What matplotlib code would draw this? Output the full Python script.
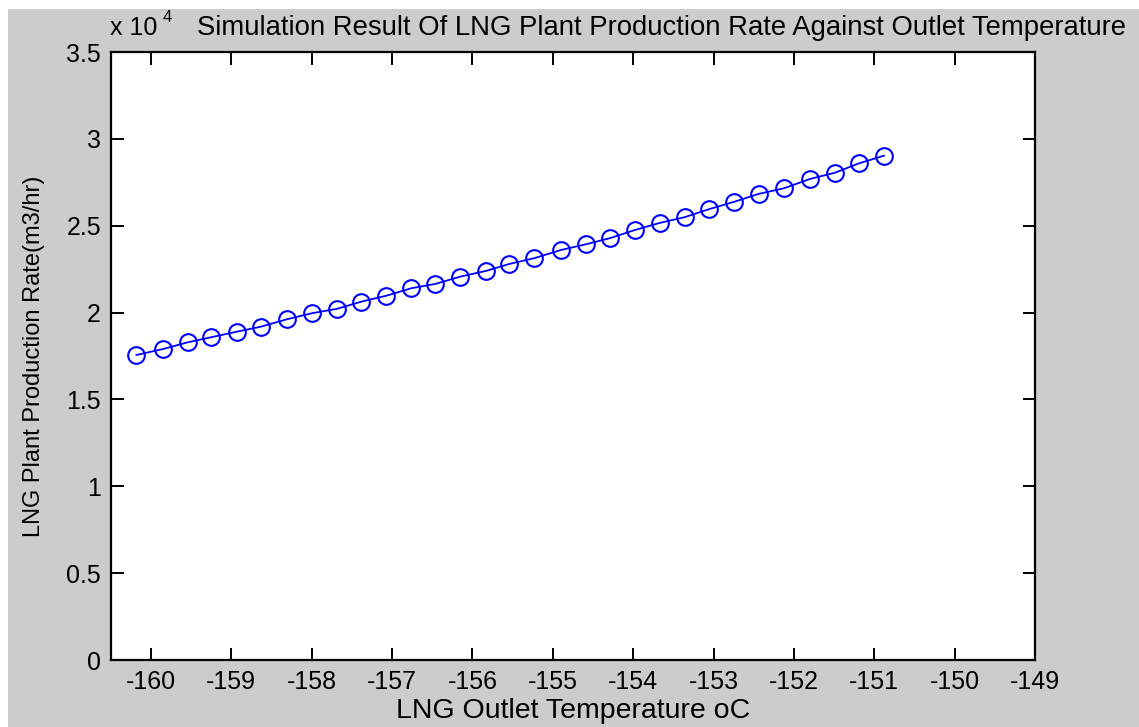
import matplotlib
matplotlib.use("Agg")
import matplotlib.pyplot as plt
from matplotlib.patches import Rectangle

# --- Datos ---
temperatura = [-160.18, -159.85, -159.54, -159.25, -158.93, -158.63, -158.31, -158.00,
               -157.69, -157.38, -157.07, -156.76, -156.46, -156.15, -155.83, -155.54,
               -155.23, -154.90, -154.59, -154.29, -153.98, -153.67, -153.36, -153.05,
               -152.74, -152.44, -152.12, -151.80, -151.49, -151.19, -150.88]
produccion = [17560, 17900, 18290, 18580, 18900, 19190, 19610, 19960,
              20210, 20630, 20970, 21400, 21650, 22070, 22400, 22800,
              23130, 23600, 23930, 24280, 24750, 25160, 25490, 25960,
              26380, 26830, 27160, 27690, 28050, 28590, 29030]
x_ticks = [-160, -159, -158, -157, -156, -155, -154, -153, -152, -151, -150, -149]
y_ticks = [0, 5000, 10000, 15000, 20000, 25000, 30000, 35000]
y_labels = ["0", "0.5", "1", "1.5", "2", "2.5", "3", "3.5"]

W, H = 1139, 727
FONT = "Liberation Sans"
FS = 18

fig = plt.figure(figsize=(W / 100, H / 100), dpi=100)
fig.patch.set_facecolor("white")
# fondo gris estilo MATLAB (con un borde blanco arriba e izquierda)
fig.patches.append(Rectangle((8 / W, 0), 1, 1 - 9 / H, transform=fig.transFigure,
                             facecolor="#cccccc", edgecolor="none", zorder=-10))

ax = fig.add_axes([110.7 / W, 67 / H, (1035 - 110.7) / W, (660 - 52) / H])
ax.set_facecolor("white")

ax.plot(temperatura, produccion, "-", color="blue", linewidth=1.3,
        marker="o", markersize=12, markerfacecolor="none",
        markeredgecolor="blue", markeredgewidth=1.5)

ax.set_xlim(-160.5, -149)
ax.set_ylim(0, 35000)
ax.set_xticks(x_ticks)
ax.set_xticklabels([str(t) for t in x_ticks], fontsize=FS, family=FONT)
ax.set_yticks(y_ticks)
ax.set_yticklabels(y_labels, fontsize=FS, family=FONT)
ax.tick_params(direction="in", length=9, width=1.4, top=True, right=True, pad=7)
for s in ax.spines.values():
    s.set_linewidth(1.6)

ax.set_xlabel("LNG Outlet Temperature oC", fontsize=20.5, family=FONT, labelpad=3)
ax.set_ylabel("LNG Plant Production Rate(m3/hr)", fontsize=17, family=FONT, labelpad=15)

# titulo y multiplicador
fig.text(197 / W, 1 - 28 / H, "Simulation Result Of LNG Plant Production Rate Against Outlet Temperature",
         fontsize=19.8, family=FONT, ha="left", va="center")
fig.text(110 / W, 1 - 28 / H, "x 10", fontsize=FS, family=FONT, ha="left", va="center")
fig.text(163 / W, 1 - 18 / H, "4", fontsize=12, family=FONT, ha="left", va="center")

fig.savefig("out.png", dpi=100)
